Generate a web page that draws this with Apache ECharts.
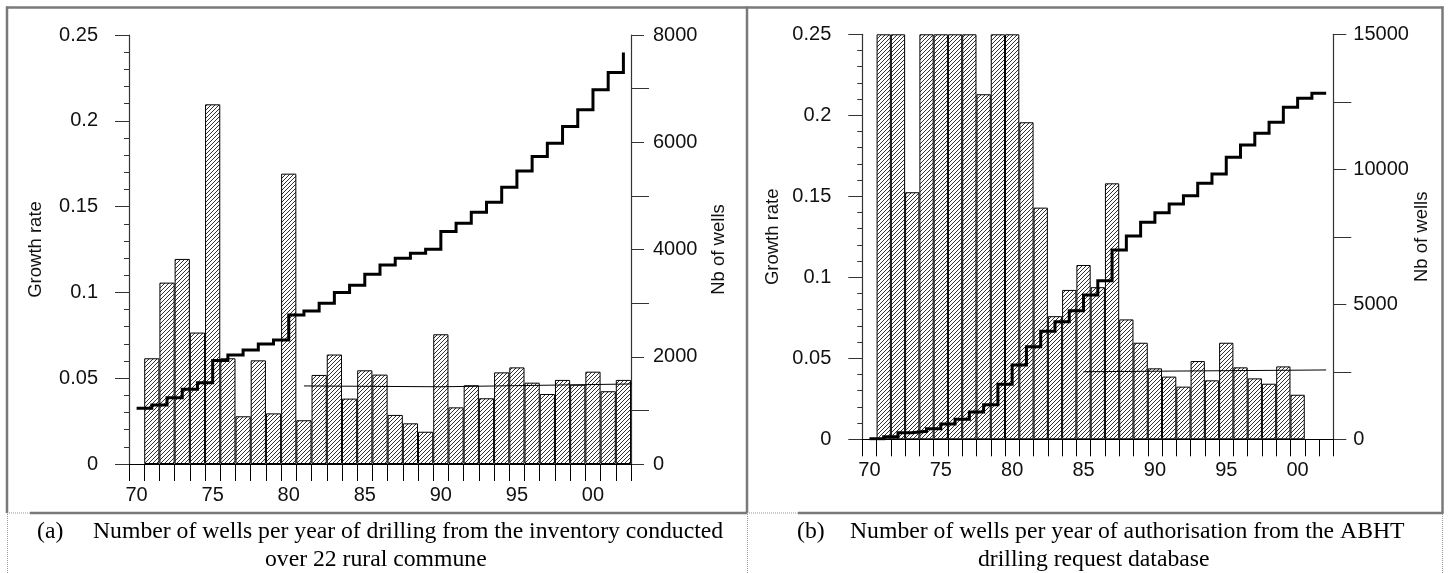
<!DOCTYPE html>
<html>
<head>
<meta charset="utf-8">
<script src="https://cdn.jsdelivr.net/npm/echarts@6/dist/echarts.min.js"></script>
<style>
  html, body { margin: 0; padding: 0; background: #fff; }
  #chart { width: 1450px; height: 573px; }
</style>
</head>
<body>
<div id="chart"></div>
<script>
// years 1970..2002, shown as two digits
const years = ['70','71','72','73','74','75','76','77','78','79','80','81','82','83','84','85','86','87','88','89',
               '90','91','92','93','94','95','96','97','98','99','00','01','02'];
const yearTicks = ['70','75','80','85','90','95','00'];

// (a) inventory of 22 rural communes
const growthA = [null, 0.0616, 0.1057, 0.1195, 0.0766, 0.2096, 0.0616, 0.0278, 0.0604, 0.0295, 0.1692,
                 0.0255, 0.0519, 0.0638, 0.0381, 0.0546, 0.0521, 0.0286, 0.0237, 0.0188, 0.0756,
                 0.0330, 0.0459, 0.0383, 0.0534, 0.0563, 0.0474, 0.0408, 0.0490, 0.0462, 0.0538,
                 0.0424, 0.0490];
const wellsA = [1039, 1101, 1237, 1393, 1517, 1928, 2034, 2127, 2239, 2313, 2780,
                2854, 2998, 3197, 3335, 3540, 3713, 3837, 3931, 4005, 4334,
                4490, 4696, 4882, 5162, 5466, 5733, 5983, 6293, 6604, 6978,
                7300, 7674];
const trendYearsA = [81, 90, 103];
const trendA = [0.0455, 0.0450, 0.0467];

// (b) ABHT drilling request database
const growthB = [null, 0.25, 0.25, 0.1525, 0.25, 0.25, 0.25, 0.25, 0.213, 0.25, 0.25,
                 0.1957, 0.143, 0.0760, 0.0922, 0.1076, 0.0939, 0.158, 0.0740, 0.0596, 0.0438,
                 0.0387, 0.0325, 0.0483, 0.0364, 0.0596, 0.0444, 0.0376, 0.0343, 0.0450, 0.0275,
                 null, null];
const wellsB = [20, 96, 245, 296, 393, 567, 741, 1011, 1281, 2037, 2752,
                3430, 4000, 4356, 4763, 5344, 5868, 7011, 7530, 8037, 8393,
                8715, 9022, 9481, 9826, 10444, 10900, 11333, 11741, 12296, 12630,
                12815, null];
const trendYearsB = [85, 102];
const trendB = [0.0417, 0.0428];

const SANS = 'Liberation Sans';
const SERIF = 'Liberation Serif';

function hatchPattern() {
    const c = document.createElement('canvas');
    c.width = 4; c.height = 4;
    const g = c.getContext('2d');
    g.fillStyle = '#fff';
    g.fillRect(0, 0, 4, 4);
    g.strokeStyle = '#1a1a1a';
    g.lineWidth = 0.9;
    g.beginPath();
    g.moveTo(-1, 5); g.lineTo(5, -1);
    g.moveTo(-1, 1); g.lineTo(1, -1);
    g.moveTo(3, 5); g.lineTo(5, 3);
    g.stroke();
    return c;
}
const hatch = { image: hatchPattern(), repeat: 'repeat' };

function pairs(xs, ys) {
    return xs.map(function (x, i) { return [x, ys[i]]; });
}

function categoryAxis(gridIndex) {
    return {
        type: 'category', gridIndex: gridIndex, data: years, boundaryGap: true,
        axisLine: { lineStyle: { color: '#000', width: 1 } },
        axisTick: { show: true, interval: 0, length: 17, lineStyle: { color: '#000' } },
        axisLabel: {
            interval: 0, margin: 21, fontFamily: SANS, fontSize: 20, color: '#111',
            formatter: function (v) { return yearTicks.indexOf(v) >= 0 ? v : ''; }
        },
        splitLine: { show: false }
    };
}

function hiddenYearAxis(gridIndex) {
    return { type: 'value', gridIndex: gridIndex, min: 69.5, max: 102.5, show: false };
}

function growthAxis(gridIndex, gap) {
    return {
        type: 'value', gridIndex: gridIndex, position: 'left', min: 0, max: 0.25, interval: 0.05,
        name: 'Growth rate', nameLocation: 'middle', nameRotate: 90, nameGap: gap,
        nameTextStyle: { fontFamily: SANS, fontSize: 18.5, color: '#111' },
        axisLine: { show: true, lineStyle: { color: '#333', width: 1.2 } },
        axisTick: { show: true, length: 14, lineStyle: { color: '#333' } },
        minorTick: { show: true, splitNumber: 5, length: 5, lineStyle: { color: '#333' } },
        axisLabel: { margin: 31, fontFamily: SANS, fontSize: 20, color: '#111' },
        splitLine: { show: false }
    };
}

function wellsAxis(gridIndex, max, interval, gap, margin) {
    return {
        type: 'value', gridIndex: gridIndex, position: 'right', min: 0, max: max, interval: interval,
        name: 'Nb of wells', nameLocation: 'middle', nameRotate: 90, nameGap: gap,
        nameTextStyle: { fontFamily: SANS, fontSize: 18.5, color: '#111' },
        axisLine: { show: true, lineStyle: { color: '#333', width: 1.2 } },
        axisTick: { show: true, length: 13, lineStyle: { color: '#333' } },
        minorTick: { show: true, splitNumber: 2, length: 18, lineStyle: { color: '#333' } },
        axisLabel: {
            margin: margin, fontFamily: SANS, fontSize: 20, color: '#111',
            formatter: function (v) { return String(v); }
        },
        splitLine: { show: false }
    };
}

function barSeries(x, y, data) {
    return {
        type: 'bar', xAxisIndex: x, yAxisIndex: y, data: data,
        barCategoryGap: '0%', clip: true, silent: true,
        itemStyle: { color: hatch, borderColor: '#000', borderWidth: 1 }
    };
}

function stepSeries(x, y, data) {
    return {
        type: 'line', xAxisIndex: x, yAxisIndex: y, data: data, step: 'end',
        symbol: 'none', z: 5, silent: true,
        lineStyle: { color: '#000', width: 3, join: 'miter' }
    };
}

function trendSeries(x, y, data) {
    return {
        type: 'line', xAxisIndex: x, yAxisIndex: y, data: data, clip: false,
        symbol: 'none', z: 4, silent: true,
        lineStyle: { color: '#000', width: 1 }
    };
}

function line(x1, y1, x2, y2, style) {
    return { type: 'line', silent: true, shape: { x1: x1, y1: y1, x2: x2, y2: y2 }, style: style, z: 10 };
}
function text(t, x, y, size) {
    return {
        type: 'text', silent: true, x: x, y: y, z: 10,
        style: { text: t, font: size + 'px "' + SERIF + '"', fill: '#000', verticalAlign: 'middle', align: 'left' }
    };
}

const frame = { stroke: '#7a7a7a', lineWidth: 2.5 };
const dotted = { stroke: '#9a9a9a', lineWidth: 1, lineDash: [1, 1] };

const chart = echarts.init(document.getElementById('chart'), null, { renderer: 'canvas' });

chart.setOption({
    animation: false,
    grid: [
        { left: 129, top: 35, width: 502, height: 429 },
        { left: 862.3, top: 34.3, width: 471, height: 405 }
    ],
    xAxis: [categoryAxis(0), categoryAxis(1), hiddenYearAxis(0), hiddenYearAxis(1)],
    yAxis: [
        growthAxis(0, 84),
        wellsAxis(0, 8000, 2000, 78, 22),
        growthAxis(1, 80),
        wellsAxis(1, 15000, 5000, 68, 20)
    ],
    series: [
        barSeries(0, 0, growthA),
        trendSeries(2, 0, pairs(trendYearsA, trendA)),
        stepSeries(0, 1, wellsA),
        barSeries(1, 2, growthB),
        trendSeries(3, 2, pairs(trendYearsB, trendB)),
        stepSeries(1, 3, wellsB)
    ],
    graphic: [
        // panel frames
        line(6, 7.5, 1443.5, 7.5, frame),
        line(7, 6.5, 7, 513, frame),
        line(747, 6.5, 747, 513, frame),
        line(1442.5, 6.5, 1442.5, 513, frame),
        line(30, 513, 747, 513, frame),
        line(798, 513, 1443.5, 513, frame),
        // caption cells
        line(7, 513, 30, 513, dotted),
        line(747, 513, 798, 513, dotted),
        line(7.5, 514, 7.5, 573, dotted),
        line(747.5, 514, 747.5, 573, dotted),
        line(1442.5, 514, 1442.5, 573, dotted),
        // captions
        text('(a)', 37, 532, 23.7),
        text('Number of wells per year of drilling from the inventory conducted', 93, 532, 23.7),
        text('over 22 rural commune', 265, 559.5, 23.7),
        text('(b)', 797, 532, 23.7),
        text('Number of wells per year of authorisation from the ABHT', 850, 532, 23.7),
        text('drilling request database', 978, 559.5, 23.7)
    ]
});
</script>
</body>
</html>
